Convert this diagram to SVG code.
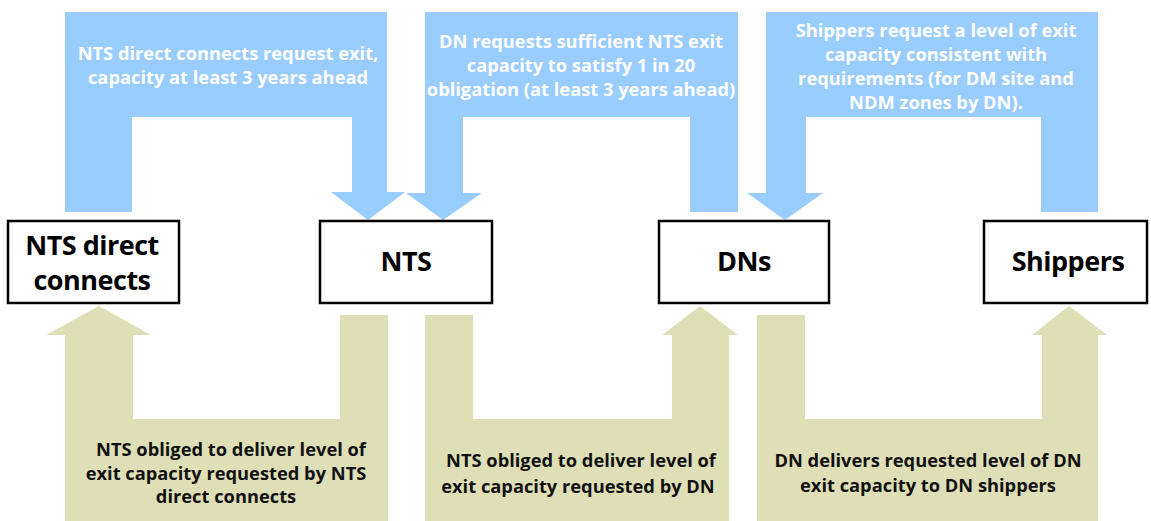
<svg xmlns="http://www.w3.org/2000/svg" width="1151" height="521" viewBox="0 0 1151 521">
<style>
.req{fill:#99CCFF}
.del{fill:#DFDFB7}
.box{fill:#FFFFFF;stroke:#000000;stroke-width:2.5}
.lbl{font-family:"Open Sans","Liberation Sans",sans-serif;font-weight:bold;fill:#000000;font-size:27px;text-anchor:middle;letter-spacing:-0.5px}
.wt{font-family:"Open Sans","Liberation Sans",sans-serif;font-weight:bold;fill:#FFFFFF;font-size:18.3px;text-anchor:middle}
.bt{font-family:"Open Sans","Liberation Sans",sans-serif;font-weight:bold;fill:#111111;font-size:18.3px;text-anchor:middle}
</style>
<g id="connectors">
<g id="req1"><path class="req" d="M65,212 L65,12 L387,12 L387,192 L405,192 L368,220 L331,192 L352,192 L352,117 L132,117 L132,212 Z"/>
<text class="wt"><tspan x="228" y="60">NTS direct connects request exit,</tspan><tspan x="228" y="84">capacity at least 3 years ahead</tspan></text></g>
<g id="req2"><path class="req" d="M690,212 L738,212 L738,12 L425,12 L425,193 L406,193 L443,220 L482,193 L463,193 L463,117 L690,117 Z"/>
<text class="wt"><tspan x="581" y="48">DN requests sufficient NTS exit</tspan><tspan x="581" y="72">capacity to satisfy 1 in 20</tspan><tspan x="581" y="96">obligation (at least 3 years ahead)</tspan></text></g>
<g id="req3"><path class="req" d="M1041,212 L1098,212 L1098,12 L766,12 L766,193 L747,193 L785,220 L823,193 L806,193 L806,117 L1041,117 Z"/>
<text class="wt"><tspan x="936" y="37">Shippers request a level of exit</tspan><tspan x="936" y="61">capacity consistent with</tspan><tspan x="936" y="85">requirements (for DM site and</tspan><tspan x="936" y="109">NDM zones by DN).</tspan></text></g>
<g id="del1"><path class="del" d="M65,521 L65,335 L46,335 L99,306 L151,335 L133,335 L133,419 L340,419 L340,315 L388,315 L388,521 Z"/>
<text class="bt"><tspan x="231" y="456">NTS obliged to deliver level of</tspan><tspan x="226" y="480">exit capacity requested by NTS</tspan><tspan x="226" y="503">direct connects</tspan></text></g>
<g id="del2"><path class="del" d="M425,315 L473,315 L473,419 L672,419 L672,335 L662,335 L700,306 L738,335 L729,335 L729,521 L425,521 Z"/>
<text class="bt"><tspan x="581" y="467">NTS obliged to deliver level of</tspan><tspan x="578" y="493">exit capacity requested by DN</tspan></text></g>
<g id="del3"><path class="del" d="M757,315 L805,315 L805,419 L1042,419 L1042,335 L1032,335 L1069,306 L1107,335 L1098,335 L1098,521 L757,521 Z"/>
<text class="bt"><tspan x="928" y="467">DN delivers requested level of DN</tspan><tspan x="928" y="492">exit capacity to DN shippers</tspan></text></g>
</g>
<g id="node-ntsdc"><rect class="box" x="8" y="221" width="171" height="82"/><text class="lbl"><tspan x="92" y="255">NTS direct</tspan><tspan x="92" y="290">connects</tspan></text></g>
<g id="node-nts"><rect class="box" x="320" y="221" width="172" height="82"/><text class="lbl" x="406" y="271">NTS</text></g>
<g id="node-dns"><rect class="box" x="659" y="221" width="170" height="82"/><text class="lbl" x="744" y="271">DNs</text></g>
<g id="node-shippers"><rect class="box" x="984" y="221" width="163" height="82"/><text class="lbl" x="1068" y="271">Shippers</text></g>
</svg>
